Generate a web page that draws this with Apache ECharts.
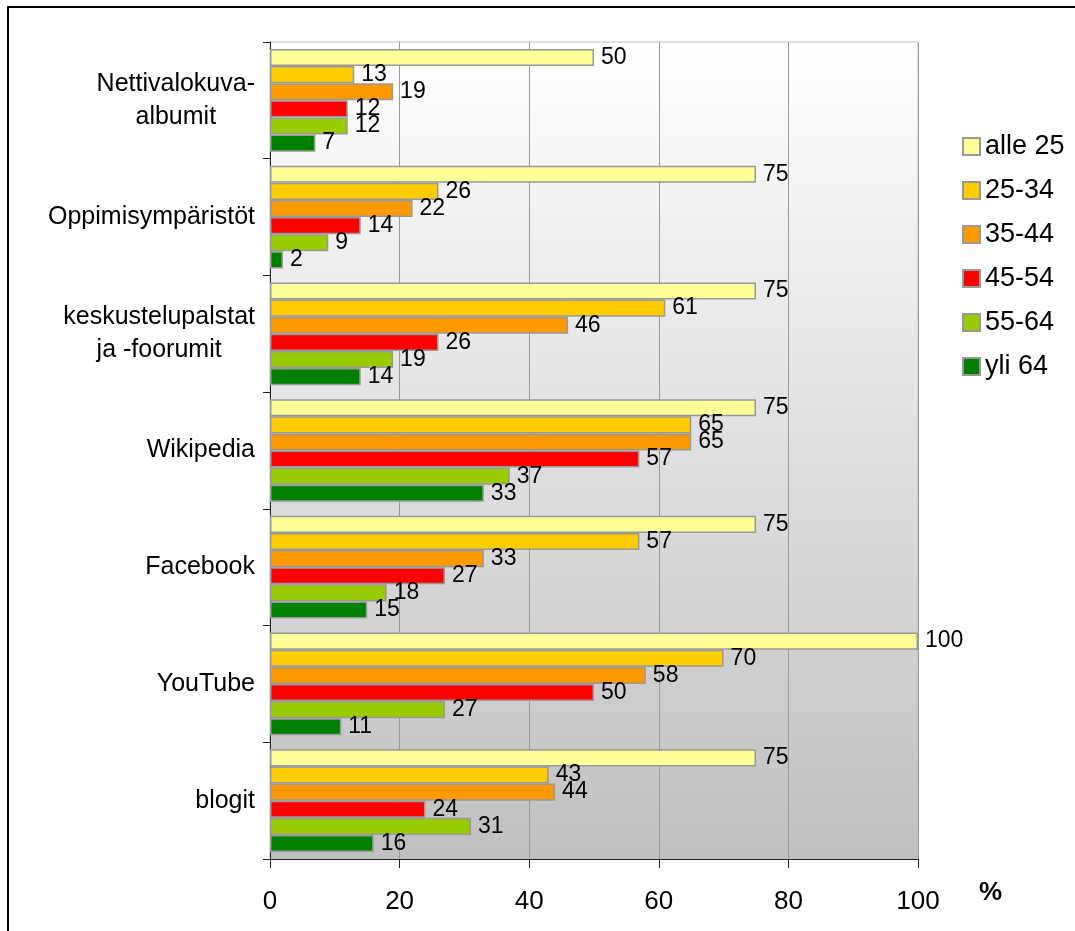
<!DOCTYPE html>
<html>
<head>
<meta charset="utf-8">
<script src="https://cdn.jsdelivr.net/npm/echarts@6/dist/echarts.min.js"></script>
<style>
  html, body { margin: 0; padding: 0; background: #fff; overflow: hidden; }
  #chart { position: absolute; left: 0; top: 0; width: 1075px; height: 931px; }
  #frame { position: absolute; left: 7px; top: 6px; width: 1100px; height: 1000px;
           border-left: 2px solid #000; border-top: 2px solid #000; pointer-events: none; }
</style>
</head>
<body>
<div id="chart"></div>
<div id="frame"></div>
<script>
// kategoriat ylhäältä alas
const categories = [
  'Nettivalokuva-\nalbumit',
  'Oppimisympäristöt',
  'keskustelupalstat\nja -foorumit',
  'Wikipedia',
  'Facebook',
  'YouTube',
  'blogit'
];

const ageGroups = ['alle 25', '25-34', '35-44', '45-54', '55-64', 'yli 64'];
const colors = ['#ffff99', '#ffcc00', '#ff9900', '#ff0000', '#99cc00', '#008000'];

// prosentit, yksi taulukko per ikäryhmä (kategoriajärjestyksessä)
const alle25 = [50, 75, 75, 75, 75, 100, 75];
const age25_34 = [13, 26, 61, 65, 57, 70, 43];
const age35_44 = [19, 22, 46, 65, 33, 58, 44];
const age45_54 = [12, 14, 26, 57, 27, 50, 24];
const age55_64 = [12, 9, 19, 37, 18, 27, 31];
const yli64 = [7, 2, 14, 33, 15, 11, 16];

const xTicks = [0, 20, 40, 60, 80, 100];

const seriesData = [alle25, age25_34, age35_44, age45_54, age55_64, yli64];

const chart = echarts.init(document.getElementById('chart'));

const series = ageGroups.map((name, i) => ({
  name: name,
  type: 'bar',
  data: seriesData[i],
  barGap: '0%',
  barCategoryGap: '12%',
  itemStyle: {
    color: colors[i],
    borderColor: '#999',
    borderWidth: 1.5
  },
  label: {
    show: true,
    position: 'right',
    distance: 7,
    fontFamily: 'Liberation Sans',
    fontSize: 23,
    color: '#000'
  }
}));

chart.setOption({
  animation: false,
  textStyle: { fontFamily: 'Liberation Sans' },
  grid: {
    left: 270,
    right: 157,
    top: 42,
    bottom: 72,
    show: true,
    borderColor: '#c0c0c0',
    borderWidth: 1,
    backgroundColor: new echarts.graphic.LinearGradient(0, 0, 0, 1, [
      { offset: 0, color: '#ffffff' },
      { offset: 1, color: '#c0c0c0' }
    ])
  },
  legend: {
    data: ageGroups,
    orient: 'vertical',
    left: 957,
    top: 128,
    itemWidth: 17,
    itemHeight: 17,
    itemGap: 17,
    itemTextGap: 9,
    icon: 'rect',
    textStyle: { fontFamily: 'Liberation Sans', fontSize: 27, color: '#000' }
  },
  // akselin yksikkö
  graphic: [{
    type: 'text',
    left: 979,
    top: 880,
    style: {
      text: '%',
      fontFamily: 'Liberation Sans',
      fontSize: 26,
      fontWeight: 'bold',
      fill: '#000'
    }
  }],
  xAxis: {
    type: 'value',
    min: xTicks[0],
    max: xTicks[xTicks.length - 1],
    interval: 20,
    axisLine: { show: true, lineStyle: { color: '#222', width: 1 } },
    axisTick: { show: true, length: 9, lineStyle: { color: '#222' } },
    axisLabel: {
      margin: 30,
      fontFamily: 'Liberation Sans',
      fontSize: 26,
      color: '#000'
    },
    splitLine: { show: true, lineStyle: { color: '#999', width: 1 } }
  },
  yAxis: {
    type: 'category',
    data: categories,
    inverse: true,
    axisLine: { show: true, lineStyle: { color: '#222', width: 1 } },
    axisTick: { show: true, length: 7, lineStyle: { color: '#222' } },
    axisLabel: {
      margin: 15,
      formatter: (v) => v.split('\n').map(s => '{c|' + s + '}').join('\n'),
      rich: {
        c: {
          fontFamily: 'Liberation Sans',
          fontSize: 25,
          lineHeight: 33,
          color: '#000',
          align: 'center'
        }
      }
    }
  },
  series: series
});

window.addEventListener('resize', () => {
  chart.resize();
});
</script>
</body>
</html>
